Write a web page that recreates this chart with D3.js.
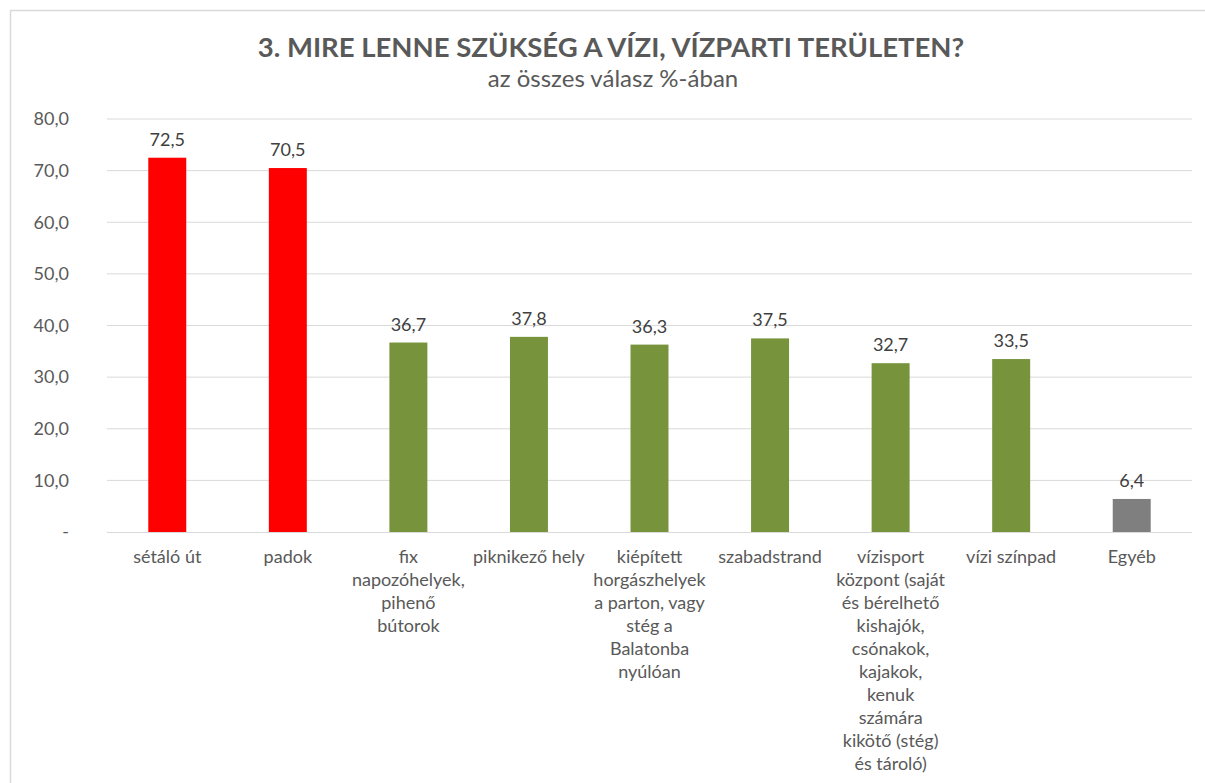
<!DOCTYPE html>
<html lang="hu">
<head>
  <meta charset="utf-8">
  <title>Mire lenne szükség a vízi, vízparti területen?</title>
  <script src="https://cdnjs.cloudflare.com/ajax/libs/d3/7.8.5/d3.min.js"></script>
  <style>
    body { margin: 0; background: #fff; }
    text { font-family: Lato, "Open Sans", sans-serif; }
  </style>
</head>
<body>
<script>
  // data
  const categories = [
    ["sétáló út"],
    ["padok"],
    ["fix", "napozóhelyek,", "pihenő", "bútorok"],
    ["piknikező hely"],
    ["kiépített", "horgászhelyek", "a parton, vagy", "stég a", "Balatonba", "nyúlóan"],
    ["szabadstrand"],
    ["vízisport", "központ (saját", "és bérelhető", "kishajók,", "csónakok,", "kajakok,", "kenuk", "számára", "kikötő (stég)", "és tároló)"],
    ["vízi színpad"],
    ["Egyéb"]
  ];
  const values = [72.5, 70.5, 36.7, 37.8, 36.3, 37.5, 32.7, 33.5, 6.4];
  const groups = ["red", "red", "green", "green", "green", "green", "green", "green", "gray"];
  const yTicks = [0, 10, 20, 30, 40, 50, 60, 70, 80];

  const W = 1205, H = 783;
  const margin = { top: 119, right: 13, bottom: 251, left: 107 };
  const width = W - margin.left - margin.right;
  const height = H - margin.top - margin.bottom;

  const colors = { red: "#ff0000", green: "#77933c", gray: "#7f7f7f" };
  const fmt = v => v === 0 ? "-" : d3.format(".1f")(v).replace(".", ",");

  const svg = d3.select("body").append("svg")
    .attr("width", W)
    .attr("height", H);

  // chart frame
  svg.append("path")
    .attr("d", `M10.5,${H} V10.5 H${W}`)
    .attr("fill", "none")
    .attr("stroke", "#d9d9d9")
    .attr("stroke-width", 1.5);

  svg.append("text")
    .attr("x", 611).attr("y", 57)
    .attr("text-anchor", "middle")
    .attr("font-size", 27.5)
    .attr("font-weight", "bold")
    .attr("fill", "#595959")
    .text("3. MIRE LENNE SZÜKSÉG A VÍZI, VÍZPARTI TERÜLETEN?");

  svg.append("text")
    .attr("x", 613).attr("y", 87)
    .attr("text-anchor", "middle")
    .attr("font-size", 24)
    .attr("fill", "#595959")
    .text("az összes válasz %-ában");

  const g = svg.append("g")
    .attr("transform", `translate(${margin.left},${margin.top})`);

  const x = d3.scaleBand()
    .domain(d3.range(values.length))
    .range([0, width])
    .paddingInner(0.685)
    .paddingOuter(0.3425);

  const y = d3.scaleLinear()
    .domain([0, 80])
    .range([height, 0]);

  // gridlines
  g.append("g")
    .selectAll("line")
    .data(yTicks.slice(1))
    .join("line")
    .attr("x1", 0).attr("x2", width)
    .attr("y1", d => y(d)).attr("y2", d => y(d))
    .attr("stroke", "#d9d9d9");

  // y axis
  const yAxis = g.append("g")
    .call(d3.axisLeft(y).tickValues(yTicks).tickFormat(fmt).tickSize(0).tickPadding(38));
  yAxis.select(".domain").remove();
  yAxis.selectAll("text")
    .attr("font-size", 18)
    .attr("fill", "#595959")
    .style("font-family", "Lato, sans-serif");

  // bars
  g.append("g")
    .selectAll("rect")
    .data(values)
    .join("rect")
    .attr("x", (d, i) => x(i))
    .attr("y", d => y(d))
    .attr("width", x.bandwidth())
    .attr("height", d => height - y(d))
    .attr("fill", (d, i) => colors[groups[i]]);

  // value labels
  g.append("g")
    .selectAll("text")
    .data(values)
    .join("text")
    .attr("x", (d, i) => x(i) + x.bandwidth() / 2)
    .attr("y", d => y(d) - 12)
    .attr("text-anchor", "middle")
    .attr("font-size", 18)
    .attr("fill", "#404040")
    .text(fmt);

  // baseline
  g.append("line")
    .attr("x1", 0).attr("x2", width)
    .attr("y1", height + 0.5).attr("y2", height + 0.5)
    .attr("stroke", "#d9d9d9");

  // category labels
  const cat = g.append("g")
    .attr("transform", `translate(0,${height})`)
    .selectAll("text")
    .data(categories)
    .join("text")
    .attr("text-anchor", "middle")
    .attr("font-size", 18)
    .attr("fill", "#595959")
    .attr("transform", (d, i) => `translate(${x(i) + x.bandwidth() / 2},31)`);

  cat.selectAll("tspan")
    .data(d => d)
    .join("tspan")
    .attr("x", 0)
    .attr("dy", (d, i) => i === 0 ? 0 : 23)
    .text(d => d);
</script>
</body>
</html>
